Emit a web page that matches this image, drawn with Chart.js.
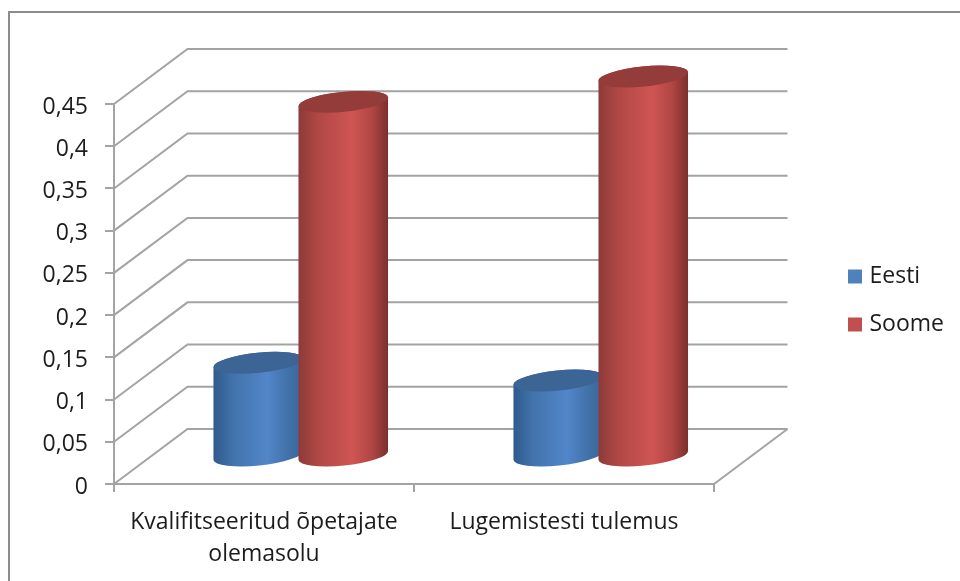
<!DOCTYPE html>
<html>
<head>
<meta charset="utf-8">
<style>html,body{margin:0;padding:0;background:#fff}canvas{display:block;filter:blur(0.45px)}</style>
<script src="https://cdn.jsdelivr.net/npm/chart.js@4"></script>
</head>
<body>
<canvas id="c" width="960" height="581"></canvas>
<script>
const categories = [["Kvalifitseeritud õpetajate", "olemasolu"], "Lugemistesti tulemus"];
const eesti = [0.111, 0.09];
const soome = [0.42, 0.45];
const yTickLabels = ["0", "0,05", "0,1", "0,15", "0,2", "0,25", "0,3", "0,35", "0,4", "0,45"];

const DEPTH_X = 73.5, DEPTH_Y = -55;
const GRID = "#a3a3a3", TEXT = "#1c1c1c";
const FONT = "'Open Sans'";
const shades = [
  { edgeL: "#2f5a8c", in1: "#4273ab", mid: "#5186c9", in2: "#4272aa", edgeR: "#3a6699", cap: "#3c6595" },
  { edgeL: "#8c3a38", in1: "#b04845", mid: "#cf5553", in2: "#b04644", edgeR: "#7a2f2d", cap: "#933c3a" }
];

function cylinder(ctx, el, s) {
  const rx = el.width / 2, ry = 10, rot = -0.1;
  const cx = el.x + DEPTH_X / 2;
  const top = el.y + DEPTH_Y / 2, base = el.base + DEPTH_Y / 2;
  const g = ctx.createLinearGradient(cx - rx, 0, cx + rx, 0);
  g.addColorStop(0, s.edgeL);
  g.addColorStop(0.22, s.in1);
  g.addColorStop(0.6, s.mid);
  g.addColorStop(0.82, s.in2);
  g.addColorStop(1, s.edgeR);
  ctx.beginPath();
  ctx.ellipse(cx, base, rx, ry, rot, 0, Math.PI);
  ctx.ellipse(cx, top, rx, ry, rot, Math.PI, 2 * Math.PI);
  ctx.closePath();
  ctx.fillStyle = g;
  ctx.fill();
  ctx.beginPath();
  ctx.ellipse(cx, top, rx, ry, rot, 0, 2 * Math.PI);
  ctx.fillStyle = s.cap;
  ctx.fill();
}

const scene = {
  id: "scene",
  afterLayout(chart) {
    const lg = chart.legend;
    lg.left = 827; lg.right = 960;
    lg.top = 240; lg.bottom = 581;
  },
  beforeDraw(chart) {
    // nudge y tick labels down to sit where the reference has them
    const items = chart.scales.y.getLabelItems();
    if (scene.done !== items) {
      items.forEach(it => { it.textOffset += 3; });
      scene.done = items;
    }
  },
  beforeDatasetsDraw(chart) {
    const ctx = chart.ctx, y = chart.scales.y, a = chart.chartArea;
    ctx.save();
    // outer frame
    ctx.strokeStyle = "#8c8c8c"; ctx.lineWidth = 2;
    ctx.beginPath(); ctx.moveTo(9, 581); ctx.lineTo(9, 12); ctx.lineTo(960, 12); ctx.stroke();
    // side wall and back wall grid
    ctx.strokeStyle = GRID; ctx.lineWidth = 2;
    y.ticks.forEach(t => {
      const p = y.getPixelForValue(t.value);
      ctx.beginPath();
      ctx.moveTo(a.left, p);
      ctx.lineTo(a.left + DEPTH_X, p + DEPTH_Y);
      ctx.lineTo(a.right + DEPTH_X, p + DEPTH_Y);
      ctx.stroke();
    });
    // floor right edge
    ctx.beginPath();
    ctx.moveTo(a.right, a.bottom);
    ctx.lineTo(a.right + DEPTH_X, a.bottom + DEPTH_Y);
    ctx.stroke();
    // cylinders
    chart.data.datasets.forEach((d, i) => {
      chart.getDatasetMeta(i).data.forEach(el => cylinder(ctx, el, shades[i]));
    });
    ctx.restore();
    return false;
  }
};

new Chart(document.getElementById("c"), {
  type: "bar",
  data: {
    labels: categories,
    datasets: [
      { label: "Eesti", data: eesti, backgroundColor: "#4f81bd", borderColor: "#4f81bd", borderWidth: 8 },
      { label: "Soome", data: soome, backgroundColor: "#c0504d", borderColor: "#c0504d", borderWidth: 8 }
    ]
  },
  plugins: [scene],
  options: {
    responsive: false,
    animation: false,
    categoryPercentage: 0.5667,
    barPercentage: 1.0588,
    layout: { padding: { top: 104, left: 0, right: 146, bottom: 0 } },
    plugins: {
      title: { display: false },
      tooltip: { enabled: false },
      legend: {
        position: "right",
        align: "start",
        maxWidth: 100,
        labels: {
          boxWidth: 6, boxHeight: 6, padding: 25, color: TEXT,
          font: { family: FONT, size: 23 }
        }
      }
    },
    scales: {
      x: {
        afterFit(s) { s.height = 97; },
        grid: { drawOnChartArea: false, drawTicks: true, tickLength: 8, color: GRID, lineWidth: 2 },
        border: { color: GRID, width: 2 },
        ticks: {
          autoSkip: false, maxRotation: 0, minRotation: 0, padding: 14, color: TEXT,
          font: { family: FONT, size: 23, lineHeight: 1.39 }
        }
      },
      y: {
        min: 0, max: 0.45,
        afterFit(s) { s.width = 114; },
        grid: { drawOnChartArea: false, drawTicks: true, tickLength: 9, color: GRID, lineWidth: 2 },
        border: { color: GRID, width: 2 },
        ticks: {
          stepSize: 0.05, padding: 17, color: TEXT,
          font: { family: FONT, size: 23 },
          callback(v, i) { return yTickLabels[i]; }
        }
      }
    }
  }
});
</script>
</body>
</html>
